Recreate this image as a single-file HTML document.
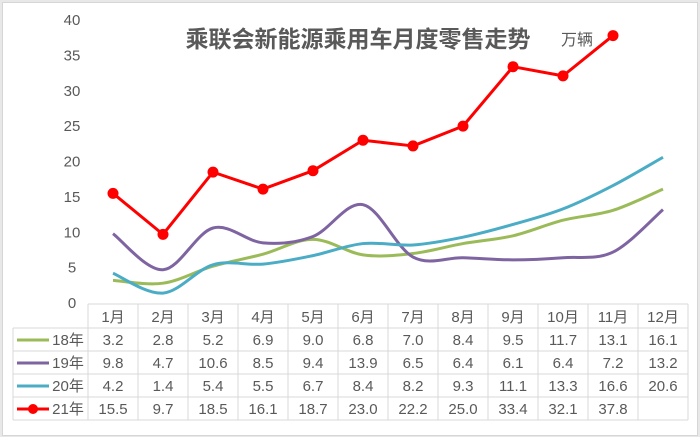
<!DOCTYPE html>
<html><head><meta charset="utf-8"><style>
html,body{margin:0;padding:0;background:#e8e8e8;}
body{width:700px;height:437px;position:relative;overflow:hidden;font-family:"Liberation Sans","Noto Sans CJK SC",sans-serif;}
#f{position:absolute;left:2px;top:2px;width:694px;height:432px;background:#fff;border:1px solid #d6d6d6;}
</style></head><body>
<div id="f"></div>
<svg id="s" width="700" height="437" style="position:absolute;left:0;top:0" xmlns="http://www.w3.org/2000/svg" font-family="Liberation Sans, Noto Sans CJK SC, sans-serif">
<text x="358" y="47" text-anchor="middle" font-size="23" font-weight="bold" fill="#595959" font-family="Noto Sans CJK SC, sans-serif">乘联会新能源乘用车月度零售走势</text>
<text x="577" y="45" text-anchor="middle" font-size="16" fill="#595959" font-family="Noto Sans CJK SC, sans-serif">万辆</text>
<g id="ax" font-size="15" fill="#595959" text-anchor="middle"></g>
<g id="tb" stroke="#d9d9d9" stroke-width="1" fill="none"></g>
<g id="tt" font-size="15" fill="#595959" text-anchor="middle"></g>
<g id="ln" fill="none" stroke-width="3"></g>
</svg>
<script>
var NS="http://www.w3.org/2000/svg";
function el(p,t,a,txt){var e=document.createElementNS(NS,t);for(var k in a)e.setAttribute(k,a[k]);if(txt!=null)e.textContent=txt;document.getElementById(p).appendChild(e);return e;}
function Y(v){return 303-v*7.075;}
function X(i){return 113+50*i;}
for(var v=0;v<=40;v+=5){el('ax','text',{x:72,y:Y(v)+5},v);}
var rows=[304,328,351,374,397,420];
el('tb','line',{x1:88,y1:304,x2:688,y2:304});
for(var r=1;r<rows.length;r++)el('tb','line',{x1:13,y1:rows[r],x2:688,y2:rows[r]});
el('tb','line',{x1:13,y1:328,x2:13,y2:420});
for(var c=0;c<=12;c++)el('tb','line',{x1:88+50*c,y1:304,x2:88+50*c,y2:420});
var data=[
{n:"18年",c:"#9bbb59",d:[3.2,2.8,5.2,6.9,9.0,6.8,7.0,8.4,9.5,11.7,13.1,16.1],s:1},
{n:"19年",c:"#7f64a2",d:[9.8,4.7,10.6,8.5,9.4,13.9,6.5,6.4,6.1,6.4,7.2,13.2],s:1},
{n:"20年",c:"#4bacc6",d:[4.2,1.4,5.4,5.5,6.7,8.4,8.2,9.3,11.1,13.3,16.6,20.6],s:1},
{n:"21年",c:"#ff0000",d:[15.5,9.7,18.5,16.1,18.7,23.0,22.2,25.0,33.4,32.1,37.8],s:0}];
for(var i=0;i<12;i++)el('tt','text',{x:X(i),y:322},(i+1)+"月");
data.forEach(function(s,r){
 var ty=rows[r+1]+17;
 el('tt','text',{x:68,y:ty},s.n);
 el('ln','line',{x1:17,y1:ty-5,x2:49,y2:ty-5,stroke:s.c});
 if(!s.s)el('ln','circle',{cx:33,cy:ty-5,r:5,fill:s.c,stroke:"none"});
 s.d.forEach(function(v,i){el('tt','text',{x:X(i),y:ty},v.toFixed(1));});
 var p=s.d.map(function(v,i){return [X(i),Y(v)];});
 var d="M"+p[0][0]+","+p[0][1];
 if(s.s){for(var i=0;i<p.length-1;i++){var p0=p[Math.max(0,i-1)],p1=p[i],p2=p[i+1],p3=p[Math.min(p.length-1,i+2)];
  var t=6;d+=" C"+(p1[0]+(p2[0]-p0[0])/t)+","+(p1[1]+(p2[1]-p0[1])/t)+" "+(p2[0]-(p3[0]-p1[0])/t)+","+(p2[1]-(p3[1]-p1[1])/t)+" "+p2[0]+","+p2[1];}}
 else{for(var i=1;i<p.length;i++)d+=" L"+p[i][0]+","+p[i][1];}
 el('ln','path',{d:d,stroke:s.c,"stroke-linejoin":"round"});
 if(!s.s)p.forEach(function(q){el('ln','circle',{cx:q[0],cy:q[1],r:5.5,fill:s.c,stroke:"none"});});
});
</script>
</body></html>
